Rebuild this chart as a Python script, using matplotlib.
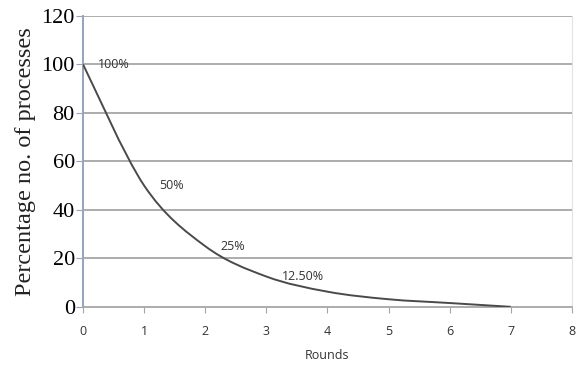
import matplotlib
matplotlib.use("Agg")
import matplotlib.pyplot as plt
import numpy as np
from matplotlib.path import Path
from matplotlib.patches import PathPatch

# data
rounds = [0, 1, 2, 3, 4, 5, 6, 7]
percent = [100, 50, 25, 12.5, 6.25, 3.125, 1.5625, 0]
label_text = ["100%", "50%", "25%", "12.50%"]
label_x = [0.25, 1.25, 2.25, 3.25]
label_y = [100, 50, 25, 12.5]


def smooth_path(x, y, ax, tension=0.5):
    # Excel style smoothed line: cubic bezier through the points (Catmull-Rom)
    pts = np.column_stack([x, y]).astype(float)
    verts = [pts[0]]
    codes = [Path.MOVETO]
    n = len(pts)
    for i in range(n - 1):
        p0 = pts[i - 1] if i > 0 else pts[i]
        p1 = pts[i]
        p2 = pts[i + 1]
        p3 = pts[i + 2] if i + 2 < n else pts[i + 1]
        c1 = p1 + (p2 - p0) * tension / 3
        c2 = p2 - (p3 - p1) * tension / 3
        verts += [c1, c2, p2]
        codes += [Path.CURVE4] * 3
    return PathPatch(Path(verts, codes), facecolor="none", edgecolor="#4a4a4a", lw=1.4,
                     transform=ax.transData, zorder=3)


fig = plt.figure(figsize=(5.77, 3.71), dpi=100)
ax = fig.add_axes([0.144, 0.173, 0.847, 0.784])

ax.set_xlim(0, 8)
ax.set_ylim(0, 120)
ax.set_xticks(range(0, 9))
ax.set_yticks(range(0, 121, 20))

for yv in range(20, 121, 20):
    ax.axhline(yv, color="#a6a6a6", lw=1.3, zorder=1)

ax.add_patch(smooth_path(rounds, percent, ax))

for t, xv, yv in zip(label_text, label_x, label_y):
    ax.text(xv, yv, t, fontsize=9, family="Open Sans", color="#333333",
            va="center", ha="left", zorder=4)

ax.spines["top"].set_visible(False)
ax.spines["right"].set_color("#dfe3ea")
ax.spines["left"].set_color("#95a3bd")
ax.spines["left"].set_linewidth(1.4)
ax.spines["bottom"].set_color("#a6a6a6")
ax.spines["bottom"].set_linewidth(1.3)

ax.tick_params(axis="y", direction="out", length=5, color="#95a3bd",
               labelsize=16, pad=1)
ax.tick_params(axis="x", direction="out", length=4, color="#a6a6a6",
               labelsize=9, pad=9, labelcolor="#333333")
for lab in ax.get_yticklabels():
    lab.set_family("Liberation Serif")
for lab in ax.get_xticklabels():
    lab.set_family("Open Sans")

ax.set_ylabel("Percentage no. of processes", family="Liberation Serif",
              fontsize=17.5, labelpad=4, color="#222222")
ax.set_xlabel("Rounds", family="Open Sans", fontsize=9, color="#333333", labelpad=8)

fig.savefig("out.png", dpi=100)
